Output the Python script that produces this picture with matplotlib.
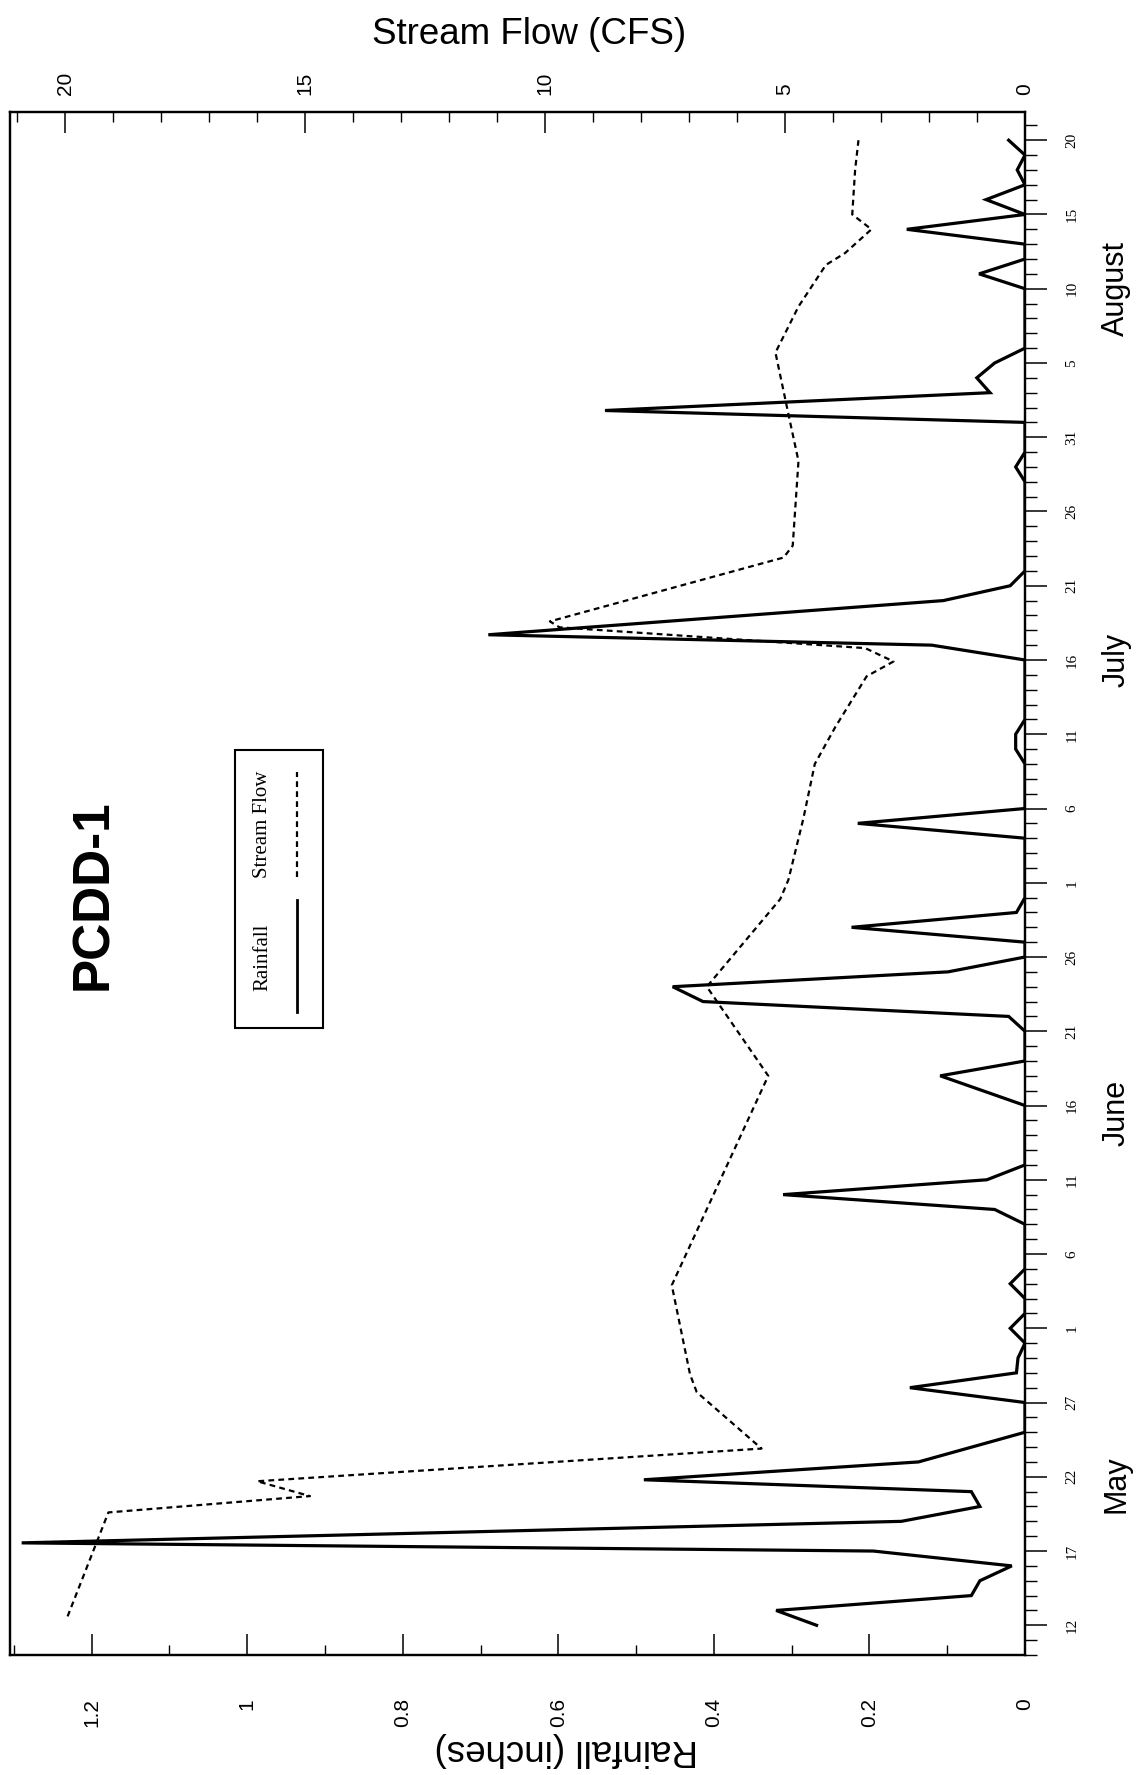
import matplotlib
matplotlib.use('Agg')
import matplotlib.pyplot as plt
from matplotlib.ticker import MultipleLocator, FixedLocator, FuncFormatter
from matplotlib.lines import Line2D
from matplotlib.patches import Rectangle

# ---- data (day offset from May 12) ----
rain_day = [0, 1, 2, 3, 4, 5, 5.55, 7, 8, 9, 9.8, 11, 13, 15, 16, 17, 18, 19, 20, 21,
            22, 23, 24, 27, 28, 29, 30, 31, 35, 37, 38, 40, 41, 42, 43, 44, 45, 46,
            47, 48, 49, 53, 54, 55, 58, 59, 60, 61, 65, 66, 66.7, 69, 70, 71, 77,
            78, 79, 81, 81.8, 83, 84, 85, 86, 90, 91, 92, 93, 94, 95, 96, 97, 98,
            99, 100]
rain_in = [0.268, 0.32, 0.069, 0.058, 0.017, 0.195, 1.29, 0.159, 0.058, 0.069, 0.49,
           0.137, 0.0, 0.0, 0.148, 0.011, 0.009, 0.0, 0.019, 0.0,
           0.0, 0.019, 0.0, 0.0, 0.039, 0.311, 0.049, 0.0, 0.0, 0.109, 0.0, 0.0,
           0.021, 0.414, 0.453, 0.099, 0.0, 0.0,
           0.223, 0.011, 0.0, 0.0, 0.215, 0.0, 0.0, 0.012, 0.012, 0.0, 0.0, 0.12,
           0.69, 0.105, 0.019, 0.0, 0.0,
           0.012, 0.0, 0.0, 0.54, 0.045, 0.062, 0.039, 0.0, 0.0, 0.059, 0.0, 0.0,
           0.152, 0.0, 0.05, 0.0, 0.01,
           0.0, 0.021]

flow_day = [0.6, 7.6, 8.7, 9.7, 11.9, 15.7, 16.9, 22.9, 37.0, 43.0, 48.9, 50.2,
            54.3, 58.0, 60.5, 63.9, 64.9, 65.8, 67.2, 67.6, 71.9, 72.7, 78.4,
            81.1, 85.7, 88.8, 91.6, 92.4, 94.0, 95.0, 98.0, 100.0]
flow_cfs = [19.95, 19.1, 14.9, 16.0, 5.49, 6.84, 6.98, 7.36, 5.35, 6.63, 5.1, 4.93,
            4.62, 4.38, 3.95, 3.3, 2.74, 3.33, 9.7, 9.9, 5.03, 4.84, 4.72,
            4.9, 5.2, 4.72, 4.15, 3.75, 3.2, 3.6, 3.54, 3.47]

date_tick_days = list(range(0, 101, 5))
date_tick_labels = ['12', '17', '22', '27', '1', '6', '11', '16', '21', '26', '1',
                    '6', '11', '16', '21', '26', '31', '5', '10', '15', '20']
month_names = ['May', 'June', 'July', 'August']
month_center_day = [9.5, 34.5, 65.0, 90.0]
rain_ticks = [0, 0.2, 0.4, 0.6, 0.8, 1.0, 1.2]
flow_ticks = [0, 5, 10, 15, 20]

SANS = ['Liberation Sans', 'DejaVu Sans']
SERIF = ['Liberation Serif', 'DejaVu Serif']

fig = plt.figure(figsize=(11.39, 17.75), dpi=100)
fig.patch.set_facecolor('white')
ax = fig.add_axes([10 / 1139, 120 / 1775, 1015 / 1139, 1543 / 1775])
ax2 = ax.twiny()

ax.plot(rain_in, rain_day, color='black', lw=2.3, solid_joinstyle='miter', zorder=3)
ax2.plot(flow_cfs, flow_day, color='black', lw=1.6, linestyle=(0, (2.6, 1.9)), zorder=3)

ax.set_xlim(1.305, 0)
ax2.set_xlim(21.15, 0)
ax.set_ylim(-2.0, 101.9)

for a in (ax, ax2):
    for s in a.spines.values():
        s.set_linewidth(1.6)
        s.set_color('black')

# rainfall (bottom)
ax.xaxis.set_major_locator(FixedLocator(rain_ticks))
ax.xaxis.set_minor_locator(MultipleLocator(0.1))
ax.xaxis.set_major_formatter(FuncFormatter(lambda v, p: '%g' % v))
ax.tick_params(axis='x', which='major', direction='in', length=15, width=1.1,
               pad=31, labelsize=15, labelrotation=90)
ax.tick_params(axis='x', which='minor', direction='in', length=7, width=1.0)
for t in ax.get_xticklabels():
    t.set_fontfamily(SANS)

# stream flow (top)
ax2.xaxis.set_major_locator(FixedLocator(flow_ticks))
ax2.xaxis.set_minor_locator(MultipleLocator(1))
ax2.xaxis.set_major_formatter(FuncFormatter(lambda v, p: '%g' % v))
ax2.tick_params(axis='x', which='major', direction='in', length=15, width=1.1,
                pad=12, labelsize=15, labelrotation=90)
ax2.tick_params(axis='x', which='minor', direction='in', length=7, width=1.0)
for t in ax2.get_xticklabels():
    t.set_fontfamily(SANS)

# dates (right)
ax.yaxis.tick_right()
ax.yaxis.set_major_locator(FixedLocator(date_tick_days))
ax.set_yticklabels(date_tick_labels, fontfamily=SERIF)
ax.yaxis.set_minor_locator(MultipleLocator(1))
ax.tick_params(axis='y', which='major', direction='out', length=16, width=1.1,
               pad=13, labelsize=11, labelrotation=90)
ax.tick_params(axis='y', which='minor', direction='out', length=8.5, width=1.0)
for t in ax.get_yticklabels():
    t.set_verticalalignment('center')

for name, d in zip(month_names, month_center_day):
    ax.text(1.09, d, name, transform=ax.get_yaxis_transform(), rotation=90,
            ha='center', va='center', fontsize=22, fontfamily=SANS)

# axis titles
fig.text(529 / 1139, 1 - 34 / 1775, 'Stream Flow (CFS)', ha='center', va='center',
         fontsize=26.5, fontfamily=SANS)
fig.text(566 / 1139, 1 - 1749 / 1775, 'Rainfall (inches)', ha='center', va='center',
         rotation=180, fontsize=26.5, fontfamily=SANS)

# title
ax.text(0.082, 0.4925, 'PCDD-1', transform=ax.transAxes, rotation=90,
        ha='center', va='center', fontsize=37, fontweight='bold', fontfamily=SANS)

# legend (drawn manually, rotated)
box = Rectangle((0.2217, 0.4064), 0.3084 - 0.2217, 0.5865 - 0.4064,
                transform=ax.transAxes, fill=False, lw=1.5, ec='black', zorder=4)
ax.add_patch(box)
ax.text(0.249, 0.4524, 'Rainfall', transform=ax.transAxes, rotation=90,
        ha='center', va='center', fontsize=15, fontfamily=SERIF, zorder=5)
ax.text(0.249, 0.5386, 'Stream Flow', transform=ax.transAxes, rotation=90,
        ha='center', va='center', fontsize=15, fontfamily=SERIF, zorder=5)
ax.add_line(Line2D([0.2828, 0.2828], [0.4167, 0.4893], transform=ax.transAxes,
                   color='black', lw=2.0, zorder=5))
ax.add_line(Line2D([0.2828, 0.2828], [0.5042, 0.5723], transform=ax.transAxes,
                   color='black', lw=1.6, linestyle=(0, (2.6, 1.9)), zorder=5))

fig.savefig('out.png', dpi=100, facecolor='white')
